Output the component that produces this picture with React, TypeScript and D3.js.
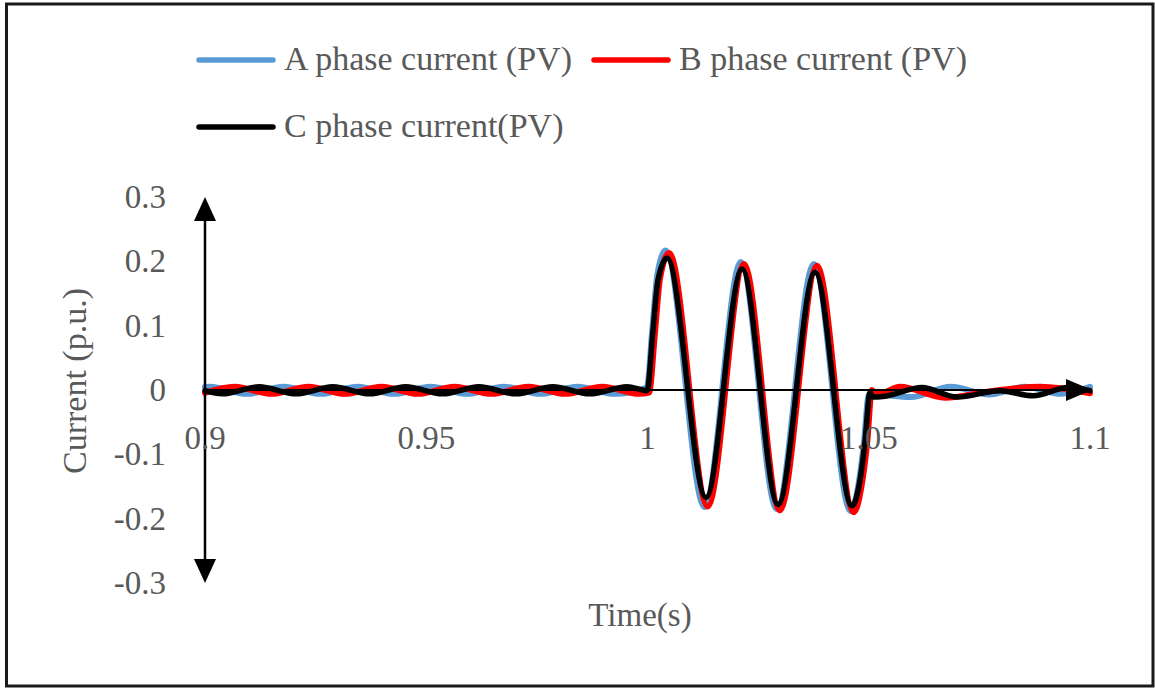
import React from "react";
import * as d3 from "d3";

// ---- Data (time in s, current in p.u.) ----
const phaseA: [number, number][] = [
  [0.9, 0.0045], [0.9011, 0.005], [0.9094, -0.006], [0.9177, 0.005], [0.9261, -0.006],
  [0.9345, 0.005], [0.9427, -0.006], [0.951, 0.005], [0.9592, -0.006], [0.9675, 0.005],
  [0.9758, -0.006], [0.9842, 0.005], [0.9925, -0.006], [0.99985, 0.004],
  [1.0011, 0.095], [1.0022, 0.178], [1.0041, 0.217], [1.0129, -0.182], [1.0211, 0.199],
  [1.0292, -0.185], [1.0376, 0.196], [1.0459, -0.188], [1.0477, -0.146], [1.0489, -0.083],
  [1.05, -0.008], [1.051, -0.007], [1.0595, -0.011], [1.0686, 0.005], [1.0772, -0.007],
  [1.0853, 0.005], [1.0935, -0.006], [1.1, 0.005],
];

const phaseB: [number, number][] = [
  [0.9, -0.0045], [0.9067, 0.005], [0.915, -0.006], [0.9234, 0.005], [0.9316, -0.006],
  [0.9399, 0.005], [0.9481, -0.006], [0.9564, 0.005], [0.9647, -0.006], [0.9731, 0.005],
  [0.9814, -0.006], [0.9898, 0.005], [0.9981, -0.006], [1.00034, -0.004],
  [1.0017, 0.09], [1.0028, 0.172], [1.0049, 0.213], [1.0136, -0.181], [1.0218, 0.196],
  [1.0299, -0.187], [1.0383, 0.193], [1.0466, -0.19], [1.0484, -0.148], [1.0496, -0.085],
  [1.05073, 0.0], [1.0513, -0.005], [1.0522, -0.006], [1.05706, 0.005], [1.06723, -0.012],
  [1.0775, -0.002], [1.0887, 0.005], [1.1, -0.005],
];

const phaseC: [number, number][] = [
  [0.9, -0.001], [0.9039, -0.006], [0.9122, 0.005], [0.9206, -0.006], [0.9289, 0.005],
  [0.9372, -0.006], [0.9454, 0.005], [0.9537, -0.006], [0.9619, 0.005], [0.9703, -0.006],
  [0.9786, 0.005], [0.987, -0.006], [0.9954, 0.005], [0.99989, -0.001],
  [1.00124, 0.093], [1.00237, 0.171], [1.00441, 0.205], [1.01322, -0.167], [1.02136, 0.188],
  [1.02949, -0.178], [1.03785, 0.183], [1.04621, -0.18], [1.04802, -0.14], [1.04915, -0.08],
  [1.05028, -0.004], [1.051, -0.011], [1.05322, -0.01], [1.06203, 0.004], [1.06994, -0.011],
  [1.07966, -0.001], [1.08712, -0.009], [1.09503, 0.004], [1.1, -0.001],
];

const seriesNames = ["A phase current (PV)", "B phase current (PV)", "C phase current(PV)"];
const seriesColors = ["#5B9BD5", "#FF0000", "#000000"];
const xTicks = [0.9, 0.95, 1, 1.05, 1.1];
const xTickLabels = ["0.9", "0.95", "1", "1.05", "1.1"];
const yTicks = [0.3, 0.2, 0.1, 0, -0.1, -0.2, -0.3];
const yTickLabels = ["0.3", "0.2", "0.1", "0", "-0.1", "-0.2", "-0.3"];

const W = 1155;
const H = 688;
const FONT = "'Liberation Serif', 'Times New Roman', serif";
const TEXT = "#595959";

export default function App() {
  const x = d3.scaleLinear().domain([0.9, 1.1]).range([205, 1090]);
  const y = d3.scaleLinear().domain([-0.3, 0.3]).range([583, 197]);
  const line = d3
    .line<[number, number]>()
    .x((d) => x(d[0]))
    .y((d) => y(d[1]))
    .curve(d3.curveMonotoneX);

  const data = [phaseA, phaseB, phaseC];
  const widths = [6, 6, 5.5];
  const x0 = x(0.9);
  const yZero = y(0);
  const yTop = y(0.3);
  const yBot = y(-0.3);
  const xEnd = x(1.1) + 2;

  const legendItems = [
    { lx: 199, ly: 60 },
    { lx: 594, ly: 60 },
    { lx: 199, ly: 127 },
  ];

  return (
    <svg
      width={W}
      height={H}
      style={{ position: "fixed", left: 0, top: 0, background: "#fff" }}
      fontFamily={FONT}
    >
      <rect x={0} y={0} width={W} height={H} fill="#fff" />
      <rect x={6.5} y={4} width={1146.5} height={682} fill="none" stroke="#1a1a1a" strokeWidth={3} />

      {/* legend */}
      {legendItems.map((it, i) => (
        <g key={i}>
          <line
            x1={it.lx}
            x2={it.lx + 74}
            y1={it.ly}
            y2={it.ly}
            stroke={seriesColors[i]}
            strokeWidth={5.5}
            strokeLinecap="round"
          />
          <text x={it.lx + 85} y={it.ly + 10} fontSize={34} fill={TEXT}>
            {seriesNames[i]}
          </text>
        </g>
      ))}

      {/* series */}
      {data.map((d, i) => (
        <path
          key={i}
          d={line(d) || ""}
          fill="none"
          stroke={seriesColors[i]}
          strokeWidth={widths[i]}
          strokeLinejoin="round"
          strokeLinecap="round"
        />
      ))}

      {/* x axis */}
      <line x1={x0} x2={xEnd - 20} y1={yZero} y2={yZero} stroke="#000" strokeWidth={2} />
      <path
        d={`M${xEnd},${yZero} L${xEnd - 26},${yZero - 11} L${xEnd - 26},${yZero + 11} Z`}
        fill="#000"
      />
      {/* y axis */}
      <line x1={x0} x2={x0} y1={yTop + 20} y2={yBot - 20} stroke="#000" strokeWidth={2.5} />
      <path d={`M${x0},${yTop} L${x0 - 11},${yTop + 24} L${x0 + 11},${yTop + 24} Z`} fill="#000" />
      <path d={`M${x0},${yBot} L${x0 - 11},${yBot - 24} L${x0 + 11},${yBot - 24} Z`} fill="#000" />

      {/* y ticks */}
      {yTicks.map((v, i) => (
        <text key={i} x={166} y={y(v) + 11} fontSize={33} fill={TEXT} textAnchor="end">
          {yTickLabels[i]}
        </text>
      ))}
      {/* x ticks */}
      {xTicks.map((v, i) => (
        <text key={i} x={x(v)} y={449} fontSize={33} fill={TEXT} textAnchor="middle">
          {xTickLabels[i]}
        </text>
      ))}

      {/* axis titles */}
      <text transform="translate(86,381) rotate(-90)" fontSize={34} fill={TEXT} textAnchor="middle">
        Current (p.u.)
      </text>
      <text x={640} y={626} fontSize={33} fill={TEXT} textAnchor="middle">
        Time(s)
      </text>
    </svg>
  );
}
